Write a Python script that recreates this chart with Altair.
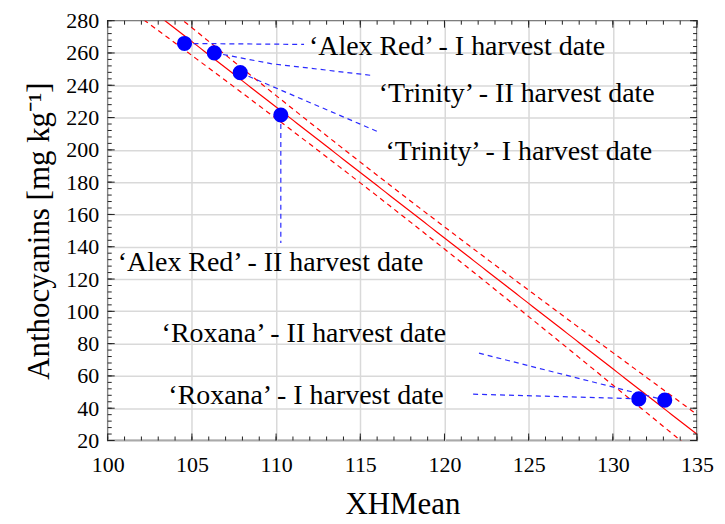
import altair as alt
import numpy as np
import pandas as pd

# ---- data ----
xh_mean = [104.56, 106.33, 107.87, 110.28, 131.54, 133.08]
anthocyanins = [265.9, 260.1, 247.8, 221.6, 45.8, 45.0]

labels = [
    "\u2018Alex Red\u2019 - I harvest date",
    "\u2018Trinity\u2019 - II harvest date",
    "\u2018Trinity\u2019 - I harvest date",
    "\u2018Alex Red\u2019 - II harvest date",
    "\u2018Roxana\u2019 - II harvest date",
    "\u2018Roxana\u2019 - I harvest date",
]
label_x = [111.95, 116.1, 116.5, 100.6, 103.2, 103.6]
label_y = [264.0, 234.5, 198.9, 130.0, 85.8, 47.5]

# leader lines (segment id, x, y)
lead_id = [0, 0, 1, 1, 1, 2, 2, 3, 3, 4, 4, 5, 5]
lead_x = [104.56, 111.66, 106.33, 109.69, 115.6, 107.87, 116.1, 110.28, 110.28, 122.05, 133.08, 121.7, 131.54]
lead_y = [265.9, 265.3, 260.1, 253.4, 246.2, 247.8, 211.0, 221.6, 142.3, 74.1, 45.0, 48.7, 45.8]

x_ticks = [100, 105, 110, 115, 120, 125, 130, 135]
y_ticks = [20, 40, 60, 80, 100, 120, 140, 160, 180, 200, 220, 240, 260, 280]
x_minor = list(range(100, 136))
y_minor = list(range(20, 281, 4))

W, H = 591, 421
FONT = "Liberation Serif"

# ---- regression fit with 95% confidence band ----
xa = np.array(xh_mean)
ya = np.array(anthocyanins)
n = len(xa)
b1, b0 = np.polyfit(xa, ya, 1)
xbar = xa.mean()
sxx = ((xa - xbar) ** 2).sum()
s = np.sqrt(((ya - (b0 + b1 * xa)) ** 2).sum() / (n - 2))
t_crit = 2.776
xs = np.linspace(100, 135, 141)
yhat = b0 + b1 * xs
se = s * np.sqrt(1 / n + (xs - xbar) ** 2 / sxx)

fit_df = pd.DataFrame({"x": xs, "y": yhat})
band_df = pd.concat([
    pd.DataFrame({"x": xs, "y": yhat + t_crit * se, "b": "upper"}),
    pd.DataFrame({"x": xs, "y": yhat - t_crit * se, "b": "lower"}),
])
pts_df = pd.DataFrame({"x": xh_mean, "y": anthocyanins})
lab_df = pd.DataFrame({"x": label_x, "y": label_y, "t": labels})
lead_df = pd.DataFrame({"id": lead_id, "x": lead_x, "y": lead_y, "o": list(range(len(lead_id)))})

xscale = alt.Scale(domain=[100, 135], nice=False, zero=False)
yscale = alt.Scale(domain=[20, 280], nice=False, zero=False)

xaxis = alt.Axis(values=x_ticks, title="XHMean", grid=True, ticks=False, domain=False,
                 labelFlush=False, labelOverlap=False,
                 labelPadding=14, titlePadding=14, titleFontSize=31, titleFontWeight="normal")
yaxis = alt.Axis(values=y_ticks, title="Anthocyanins [mg kg\u207b\u00b9]", grid=True, ticks=False,
                 domain=False, labelFlush=False, labelOverlap=False,
                 labelPadding=9, titlePadding=10, titleFontSize=31,
                 titleFontWeight="normal")

band = alt.Chart(band_df).mark_line(color="#ff0000", strokeWidth=1.2, strokeDash=[5, 4], clip=True).encode(
    x=alt.X("x:Q", scale=xscale, axis=xaxis), y=alt.Y("y:Q", scale=yscale, axis=yaxis), detail="b:N")
fit = alt.Chart(fit_df).mark_line(color="#ff0000", strokeWidth=1.2, clip=True).encode(
    x=alt.X("x:Q", axis=xaxis), y=alt.Y("y:Q", axis=yaxis))
leads = alt.Chart(lead_df).mark_line(color="#2b2bff", strokeWidth=1.2, strokeDash=[5, 4]).encode(
    x=alt.X("x:Q", axis=xaxis), y=alt.Y("y:Q", axis=yaxis), detail="id:N", order="o:Q")
pts = alt.Chart(pts_df).mark_circle(color="#0000ff", opacity=1, size=230).encode(
    x=alt.X("x:Q", axis=xaxis), y=alt.Y("y:Q", axis=yaxis))
txt = alt.Chart(lab_df).mark_text(align="left", baseline="middle", font=FONT, fontSize=28,
                                  color="black").encode(
    x=alt.X("x:Q", axis=xaxis), y=alt.Y("y:Q", axis=yaxis), text="t:N")

# inner ticks on all four sides
xmin_df = pd.DataFrame({"x": x_minor})
xmaj_df = pd.DataFrame({"x": x_ticks})
ymin_df = pd.DataFrame({"y": y_minor})
ymaj_df = pd.DataFrame({"y": y_ticks})
tick_layers = []
for df, ln in [(xmin_df, 4), (xmaj_df, 7)]:
    tick_layers.append(alt.Chart(df).mark_rule(color="#222", strokeWidth=1).encode(
        x=alt.X("x:Q", axis=xaxis), y=alt.value(H), y2=alt.value(H - ln)))
    tick_layers.append(alt.Chart(df).mark_rule(color="#222", strokeWidth=1).encode(
        x=alt.X("x:Q", axis=xaxis), y=alt.value(0), y2=alt.value(ln)))
for df, ln in [(ymin_df, 4), (ymaj_df, 7)]:
    tick_layers.append(alt.Chart(df).mark_rule(color="#222", strokeWidth=1).encode(
        y=alt.Y("y:Q", axis=yaxis), x=alt.value(0), x2=alt.value(ln)))
    tick_layers.append(alt.Chart(df).mark_rule(color="#222", strokeWidth=1).encode(
        y=alt.Y("y:Q", axis=yaxis), x=alt.value(W), x2=alt.value(W - ln)))

chart = alt.layer(band, fit, *tick_layers, leads, pts, txt).properties(
    width=W, height=H,
    autosize=alt.AutoSizeParams(type="none"),
    padding={"left": 100, "top": 12, "right": 20, "bottom": 80},
).configure_view(
    stroke="#222", strokeWidth=1.5
).configure_axis(
    labelFont=FONT, titleFont=FONT, labelFontSize=22, labelColor="black", titleColor="black",
    gridColor="#d9d9d9", gridWidth=1.5, labelOverlap=False, labelFlush=False
)

chart.save("out.html", embed_options={"renderer": "svg", "actions": False})
